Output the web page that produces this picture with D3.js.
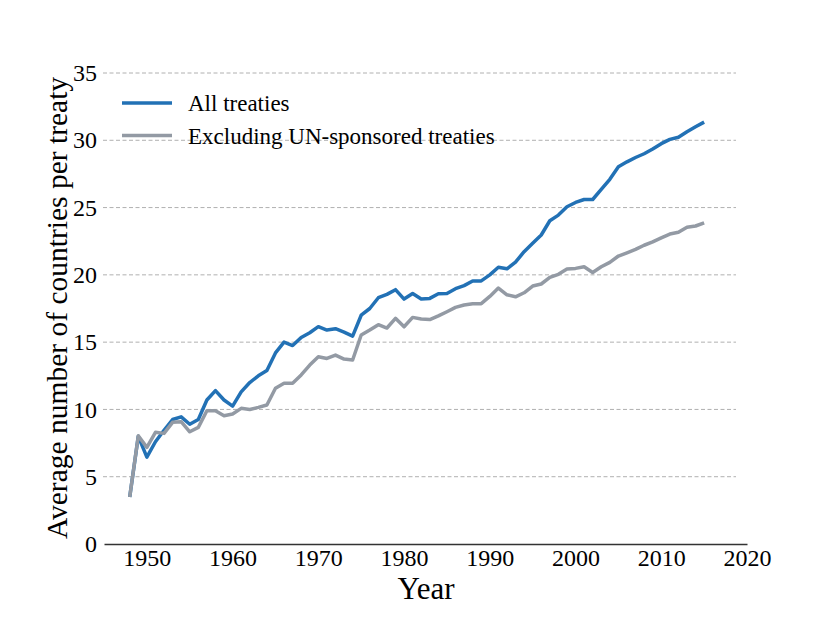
<!DOCTYPE html>
<html>
<head>
<meta charset="utf-8">
<script src="https://cdn.jsdelivr.net/npm/d3@7"></script>
<style>
  html, body { margin: 0; padding: 0; background: #fff; }
  svg { display: block; font-family: "Liberation Serif", "Times New Roman", serif; }
  svg text { font-family: "Liberation Serif", "Times New Roman", serif; }
</style>
</head>
<body>
<svg id="chart" width="828" height="621"></svg>
<script>
const years = d3.range(1948, 2016);
const allTreaties = [
  3.5, 8.0, 6.45, 7.6, 8.45, 9.25, 9.45, 8.9, 9.25, 10.7,
  11.4, 10.7, 10.25, 11.3, 12.0, 12.5, 12.9, 14.2, 15.0, 14.75,
  15.35, 15.7, 16.15, 15.9, 16.0, 15.75, 15.45, 17.0, 17.5, 18.3,
  18.55, 18.9, 18.2, 18.62, 18.2, 18.25, 18.6, 18.62, 18.97, 19.2,
  19.55, 19.55, 20.0, 20.57, 20.45, 20.95, 21.72, 22.35, 22.96, 24.02,
  24.44, 25.06, 25.38, 25.6, 25.6, 26.35, 27.1, 28.03, 28.4, 28.72,
  29.0, 29.35, 29.75, 30.07, 30.22, 30.63, 31.0, 31.35
];
const excludingUN = [
  3.5, 8.05, 7.18, 8.3, 8.22, 9.04, 9.09, 8.34, 8.67, 9.9,
  9.9, 9.53, 9.66, 10.08, 10.0, 10.15, 10.33, 11.57, 11.94, 11.94,
  12.56, 13.3, 13.92, 13.79, 14.04, 13.74, 13.67, 15.53, 15.9, 16.3,
  16.05, 16.77, 16.14, 16.84, 16.72, 16.68, 16.95, 17.26, 17.58, 17.76,
  17.86, 17.86, 18.4, 19.02, 18.52, 18.37, 18.67, 19.17, 19.32, 19.81,
  20.04, 20.43, 20.48, 20.6, 20.18, 20.6, 20.93, 21.4, 21.64, 21.89,
  22.2, 22.45, 22.75, 23.03, 23.16, 23.53, 23.63, 23.87
];
const xTicks = [1950, 1960, 1970, 1980, 1990, 2000, 2010, 2020];
const yTicks = [0, 5, 10, 15, 20, 25, 30, 35];
const seriesNames = ["All treaties", "Excluding UN-sponsored treaties"];
const seriesColors = ["#2271b5", "#939aa4"];

const svg = d3.select("#chart");
const x = d3.scaleLinear().domain([1945, 2020]).range([104, 747]);
const y = d3.scaleLinear().domain([0, 35]).range([544, 73]);

// gridlines
svg.append("g").selectAll("line").data(yTicks.filter(d => d > 0)).join("line")
  .attr("x1", 103).attr("x2", 736)
  .attr("y1", d => y(d)).attr("y2", d => y(d))
  .attr("stroke", "#b0b0b0").attr("stroke-width", 1)
  .attr("stroke-dasharray", "4,2.5");

// y axis (labels only)
const yAxis = d3.axisLeft(y).tickValues(yTicks).tickSize(0).tickPadding(0);
const gy = svg.append("g").attr("transform", "translate(97,0)").call(yAxis)
  .attr("font-family", null).attr("font-size", null);
gy.select(".domain").remove();
gy.selectAll("text").style("font-size", "24px").attr("fill", "#000");

// x axis
const xAxis = d3.axisBottom(x).tickValues(xTicks).tickFormat(d3.format("d")).tickSize(0).tickPadding(5);
const gx = svg.append("g").attr("transform", "translate(0,544)").call(xAxis)
  .attr("font-family", null).attr("font-size", null);
gx.select(".domain").attr("stroke", "#333").attr("stroke-width", 1.5);
gx.selectAll("text").style("font-size", "24px").attr("fill", "#000");

// lines
const line = d3.line().x((d, i) => x(years[i])).y(d => y(d));
[allTreaties, excludingUN].forEach((s, k) => {
  svg.append("path").datum(s)
    .attr("fill", "none").attr("stroke", seriesColors[k])
    .attr("stroke-width", 3.5).attr("stroke-linejoin", "round")
    .attr("d", line);
});

// axis titles
svg.append("text").attr("x", 426).attr("y", 599).attr("text-anchor", "middle")
  .style("font-size", "31px").text("Year");
svg.append("text").attr("transform", "translate(67,308) rotate(-90)")
  .attr("text-anchor", "middle").style("font-size", "29.5px")
  .text("Average number of countries per treaty");

// legend
const lg = svg.append("g");
seriesNames.forEach((n, k) => {
  const yy = 103 + k * 32.5;
  lg.append("line").attr("x1", 122).attr("x2", 172).attr("y1", yy).attr("y2", yy)
    .attr("stroke", seriesColors[k]).attr("stroke-width", 3.5);
  lg.append("text").attr("x", 188).attr("y", yy + 8).style("font-size", "23px").text(n);
});
</script>
</body>
</html>
